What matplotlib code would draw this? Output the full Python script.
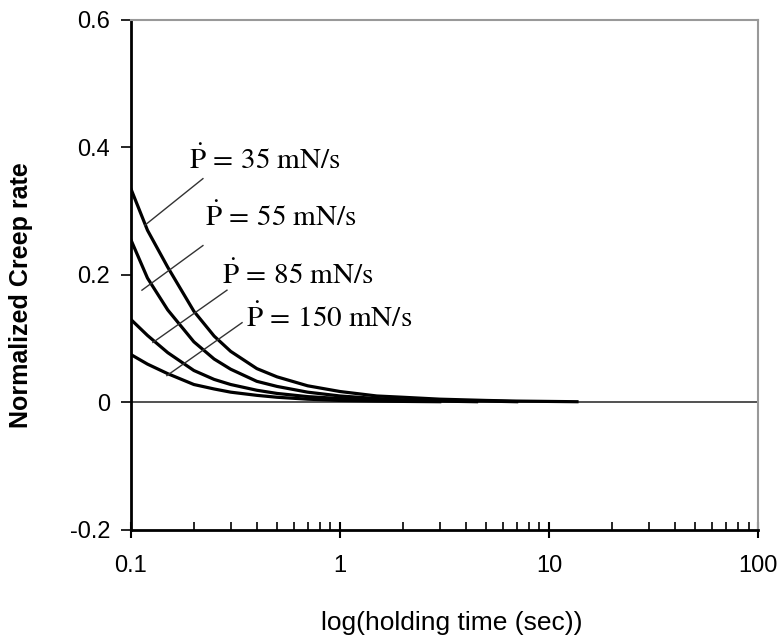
import matplotlib.pyplot as plt
from matplotlib.ticker import LogLocator, NullFormatter

plt.rcParams['mathtext.fontset'] = 'stix'
plt.rcParams['font.family'] = ['Liberation Sans', 'DejaVu Sans']

# holding time (s) and normalized creep rate
t_35 = [0.1, 0.12, 0.15, 0.2, 0.25, 0.3, 0.4, 0.5, 0.7, 1, 1.5, 2, 3, 5, 7, 13.6]
r_35 = [0.335, 0.27, 0.212, 0.143, 0.104, 0.080, 0.053, 0.040, 0.026, 0.017,
        0.010, 0.008, 0.005, 0.003, 0.002, 0.001]

t_55 = [0.1, 0.12, 0.15, 0.2, 0.25, 0.3, 0.4, 0.5, 0.7, 1, 1.5, 2, 3, 5, 7]
r_55 = [0.255, 0.195, 0.145, 0.095, 0.068, 0.052, 0.033, 0.025, 0.016, 0.010,
        0.006, 0.004, 0.003, 0.002, 0.001]

t_85 = [0.1, 0.12, 0.15, 0.2, 0.25, 0.3, 0.4, 0.5, 0.7, 1, 1.5, 2, 3, 4.5]
r_85 = [0.13, 0.105, 0.078, 0.050, 0.036, 0.028, 0.019, 0.014, 0.009, 0.006,
        0.004, 0.003, 0.002, 0.001]

t_150 = [0.1, 0.12, 0.15, 0.2, 0.25, 0.3, 0.4, 0.5, 0.7, 1, 1.5, 2, 3]
r_150 = [0.075, 0.060, 0.045, 0.028, 0.021, 0.016, 0.011, 0.008, 0.005, 0.003,
         0.002, 0.0015, 0.001]

labels = ["35", "55", "85", "150"]
# label anchor (time, rate) and leader line from label to curve
label_pos = [(0.19, 0.38), (0.225, 0.29), (0.274, 0.199), (0.357, 0.132)]
leader_start = [(0.221, 0.351), (0.221, 0.246), (0.288, 0.176), (0.340, 0.125)]
leader_end = [(0.1167, 0.278), (0.1129, 0.176), (0.1274, 0.094), (0.1486, 0.042)]

fig = plt.figure(figsize=(7.84, 6.43), dpi=100)
ax = fig.add_axes([0.167, 0.176, 0.800, 0.793])

ax.plot([0.1, 100], [0, 0], color='#333333', lw=1.2)
for t, r in [(t_35, r_35), (t_55, r_55), (t_85, r_85), (t_150, r_150)]:
    ax.plot(t, r, color='black', lw=2.3)

for lab, p, s, e in zip(labels, label_pos, leader_start, leader_end):
    ax.plot([s[0], e[0]], [s[1], e[1]], color='#333333', lw=1)
    ax.text(p[0], p[1], r'$\dot{\mathrm{P}}\,=\,%s\ \mathrm{mN/s}$' % lab,
            fontsize=21, va='center', ha='left')

ax.set_xscale('log')
ax.set_xlim(0.1, 100)
ax.set_ylim(-0.2, 0.6)
ax.set_xticks([0.1, 1, 10, 100])
ax.set_xticklabels(['0.1', '1', '10', '100'])
ax.xaxis.set_minor_locator(LogLocator(base=10, subs=range(2, 10)))
ax.xaxis.set_minor_formatter(NullFormatter())
ax.set_yticks([-0.2, 0, 0.2, 0.4, 0.6])
ax.set_yticklabels(['-0.2', '0', '0.2', '0.4', '0.6'])

ax.tick_params(axis='x', which='major', direction='inout', length=12, width=1.5,
               labelsize=17, pad=12)
ax.tick_params(axis='x', which='minor', direction='in', length=6, width=1.2)
ax.tick_params(axis='y', which='major', direction='out', length=7, width=1.2,
               labelsize=17, pad=8)

for side in ['left', 'bottom']:
    ax.spines[side].set_linewidth(2)
    ax.spines[side].set_color('black')
for side in ['top', 'right']:
    ax.spines[side].set_linewidth(1.5)
    ax.spines[side].set_color('#999999')

ax.set_xlabel('log(holding time (sec))', fontsize=19)
ax.xaxis.set_label_coords(0.512, -0.16)
ax.set_ylabel('Normalized Creep rate', fontsize=18, fontweight='bold')
ax.yaxis.set_label_coords(-0.156, 0.461)

fig.savefig('out.png', dpi=100)
